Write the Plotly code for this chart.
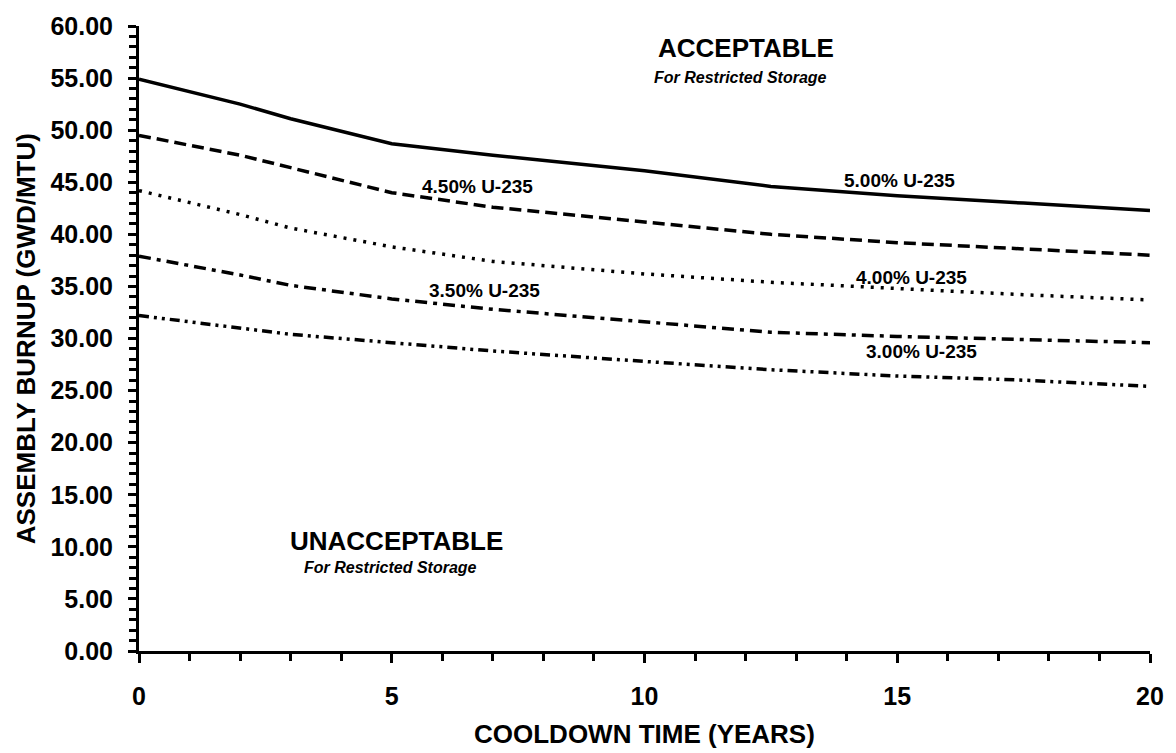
import plotly.graph_objects as go

years = [0, 2, 3, 5, 7, 10, 12.5, 15, 17.5, 20]
u500 = [54.9, 52.5, 51.1, 48.7, 47.6, 46.1, 44.6, 43.7, 43.0, 42.3]
u450 = [49.5, 47.6, 46.4, 44.0, 42.6, 41.2, 40.0, 39.2, 38.6, 38.0]
u400 = [44.2, 41.9, 40.6, 38.8, 37.4, 36.2, 35.4, 34.8, 34.2, 33.7]
u350 = [37.9, 36.1, 35.1, 33.8, 32.8, 31.6, 30.6, 30.2, 29.9, 29.6]
u300 = [32.2, 31.0, 30.4, 29.6, 28.8, 27.8, 27.0, 26.4, 26.0, 25.4]

series = [
    ("5.00% U-235", u500, "solid"),
    ("4.50% U-235", u450, "12px,6px"),
    ("4.00% U-235", u400, "3px,7px"),
    ("3.50% U-235", u350, "12px,6px,4px,6px"),
    ("3.00% U-235", u300, "10px,5px,3px,5px,3px,5px"),
]

curve_labels = ["4.50% U-235", "5.00% U-235", "4.00% U-235", "3.50% U-235", "3.00% U-235"]
label_x = [6.7, 15.04, 15.28, 6.84, 15.47]
label_y = [44.6, 45.2, 35.9, 34.6, 28.8]

FONT = "Liberation Sans"

fig = go.Figure()
for name, ys, dash in series:
    fig.add_trace(go.Scatter(x=years, y=ys, mode="lines", name=name,
                             line=dict(color="black", width=3.5, dash=dash),
                             showlegend=False))

for txt, x, y in zip(curve_labels, label_x, label_y):
    fig.add_annotation(x=x, y=y, text="<b>" + txt + "</b>", showarrow=False,
                       font=dict(family=FONT, size=19, color="black"))

fig.add_annotation(x=12.0, y=57.9, text="<b>ACCEPTABLE</b>", showarrow=False,
                   font=dict(family=FONT, size=26, color="black"))
fig.add_annotation(x=11.9, y=55.1, text="<b><i>For Restricted Storage</i></b>", showarrow=False,
                   font=dict(family=FONT, size=16, color="black"))
fig.add_annotation(x=5.1, y=10.6, text="<b>UNACCEPTABLE</b>", showarrow=False,
                   font=dict(family=FONT, size=26, color="black"))
fig.add_annotation(x=4.97, y=8.0, text="<b><i>For Restricted Storage</i></b>", showarrow=False,
                   font=dict(family=FONT, size=16, color="black"))

# axis titles
fig.add_annotation(xref="paper", yref="paper", x=0.5, y=-0.133, yanchor="middle",
                   text="<b>COOLDOWN TIME (YEARS)</b>", showarrow=False,
                   font=dict(family=FONT, size=26, color="black"))
fig.add_annotation(xref="paper", yref="paper", x=-0.112, y=0.5, xanchor="center",
                   textangle=-90, text="<b>ASSEMBLY BURNUP (GWD/MTU)</b>", showarrow=False,
                   font=dict(family=FONT, size=26, color="black"))

fig.update_xaxes(range=[0, 20], tickvals=[0, 5, 10, 15, 20], ticks="outside", ticklen=9,
                 tickwidth=2.5, tickcolor="black", showline=True, linecolor="black", linewidth=3,
                 showgrid=False, zeroline=False, ticklabelstandoff=12,
                 minor=dict(dtick=1, ticks="outside", ticklen=7, tickwidth=2.5, tickcolor="black"),
                 tickfont=dict(family=FONT, size=25, color="black", weight="bold"))
fig.update_yaxes(range=[0, 60], dtick=5, tickformat=".2f", ticks="outside", ticklen=8,
                 tickwidth=2.5, tickcolor="black", showline=True, linecolor="black", linewidth=3,
                 showgrid=False, zeroline=False, ticklabelstandoff=10,
                 minor=dict(dtick=1, ticks="outside", ticklen=7, tickwidth=2.5, tickcolor="black"),
                 tickfont=dict(family=FONT, size=25, color="black", weight="bold"))

fig.update_layout(width=1176, height=753, plot_bgcolor="white", paper_bgcolor="white",
                  margin=dict(l=139, r=18, t=20, b=102))
fig.write_html("out.html", config={"displayModeBar": False},
               post_script="document.body.style.margin='0';")
